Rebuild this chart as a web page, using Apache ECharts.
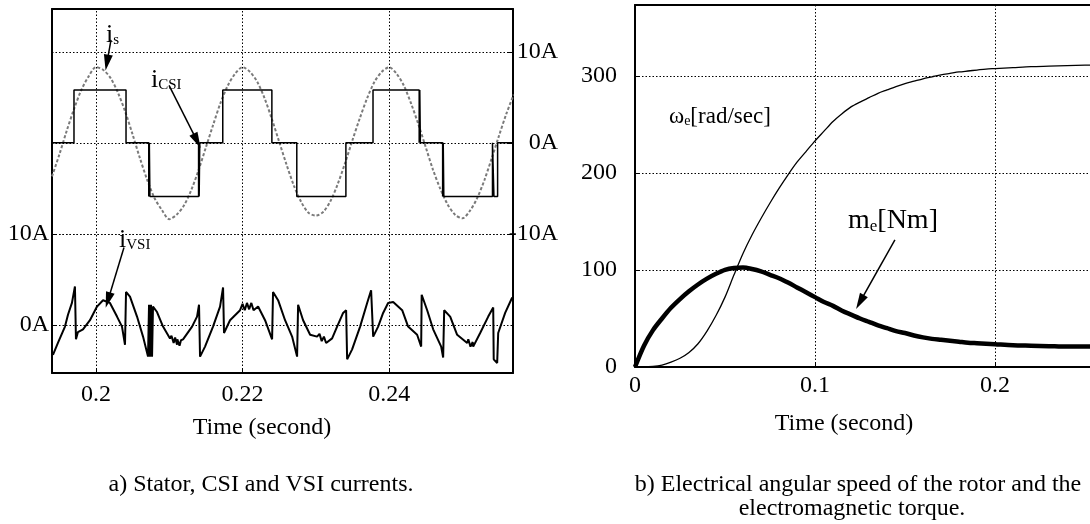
<!DOCTYPE html>
<html><head><meta charset="utf-8">
<script src="https://cdn.jsdelivr.net/npm/echarts@6/dist/echarts.min.js"></script>
<style>html,body{margin:0;padding:0;background:#fff}#c{width:1090px;height:524px}</style>
</head><body><div id="c"></div>
<script>
const FONT = "'Liberation Serif','Times New Roman',serif";

// ---------- left panel: currents ----------
const leftTicksX = [0.2, 0.22, 0.24];
const rightAxisTicks = [-10, 0, 10];   // i_s / i_CSI axis (drawn on the right)
const leftAxisTicks = [0, 10];         // i_VSI axis (drawn on the left)

const isTime = [0.194,0.195,0.196,0.197,0.198,0.199,0.200,0.201,0.202,0.203,
  0.204,0.205,0.206,0.207,0.208,0.209,0.210,0.211,0.212,0.213,
  0.214,0.215,0.216,0.217,0.218,0.219,0.220,0.221,0.222,0.223,
  0.224,0.225,0.226,0.227,0.228,0.229,0.230,0.231,0.232,0.233,
  0.234,0.235,0.236,0.237,0.238,0.239,0.240,0.241,0.242,0.243,
  0.244,0.245,0.246,0.247,0.248,0.249,0.250,0.251,0.252,0.253,
  0.254,0.255,0.256,0.257];
const isValue = [-3.7,-1.3,1.3,3.7,5.8,7.3,8.3,8.0,7.1,5.5,
  3.4,0.9,-1.7,-4.1,-6.1,-7.4,-8.4,-7.9,-6.9,-5.2,
  -3.0,-0.5,2.0,4.4,6.3,7.6,8.3,7.8,6.7,4.9,
  2.6,0.1,-2.4,-4.7,-6.5,-7.7,-8.0,-7.6,-6.4,-4.5,
  -2.2,0.3,2.7,4.9,6.7,7.8,8.3,7.6,6.3,4.3,
  2.0,-0.5,-3.0,-5.1,-6.8,-7.9,-8.3,-7.5,-6.1,-4.1,
  -1.7,0.8,3.2,5.3];

const csiTime = [0.194,0.1970,0.1970,0.2041,0.2041,0.2072,0.2072,0.20728,0.20728,0.20736,0.20736,
  0.2140,0.2140,0.21408,0.21408,0.21416,0.21416,0.2173,0.2173,0.2240,0.2240,0.2274,0.2274,
  0.2341,0.2341,0.2378,0.2378,0.2441,0.2441,0.24418,0.24418,0.24426,0.24426,
  0.2473,0.2473,0.24738,0.24738,0.24746,0.24746,0.2541,0.2541,0.2543,0.2543,0.2548,0.2548,0.2569];
const csiValue = [0,0,5.8,5.8,0,0,-5.9,-5.9,0,0,-5.9,
  -5.9,0,0,-5.9,-5.9,0,0,5.8,5.8,0,0,-5.9,
  -5.9,0,0,5.8,5.8,0,0,5.8,5.8,0,
  0,-5.9,-5.9,0,0,-5.9,-5.9,0,0,-5.9,-5.9,0,0];

const vsiTime = [0.19413,0.19481,0.19577,0.19618,0.19672,0.19713,0.19727,0.19754,0.19823,0.19918,
  0.20014,0.20096,0.20191,0.20287,0.20355,0.20396,0.20410,0.20464,0.20560,0.20642,
  0.20710,0.20724,0.20737,0.20751,0.20765,0.20778,0.20833,0.20915,0.21010,0.2103,
  0.2106,0.2108,0.21106,0.2111,0.2114,0.2116,0.21188,0.21311,0.21379,0.21406,
  0.21420,0.21488,0.21597,0.21693,0.21734,0.21747,0.21829,0.21966,0.2200,0.2203,
  0.2206,0.2209,0.22102,0.2212,0.2215,0.22212,0.22307,0.22403,0.22416,0.22485,
  0.22580,0.22676,0.22744,0.22758,0.22826,0.22922,0.23017,0.2305,0.2308,0.2311,
  0.2314,0.23154,0.23222,0.23290,0.23372,0.23413,0.23427,0.23495,0.23604,0.23700,
  0.23754,0.23782,0.23850,0.23918,0.23986,0.24055,0.24178,0.24259,0.24382,0.24437,
  0.24444,0.24519,0.24601,0.24710,0.24737,0.24751,0.24833,0.24928,0.25065,0.2508,
  0.2511,0.2514,0.25147,0.2517,0.25242,0.25352,0.25420,0.25427,0.25474,0.25488,
  0.25583,0.25679];
const vsiValue = [-3.3,-2.0,-0.2,1.1,2.4,4.2,-1.6,-0.8,-0.5,0.5,
  2.0,2.7,2.4,0.9,-0.2,-2.2,3.6,3.1,0.9,-1.3,
  -3.5,2.2,-3.5,2.2,-3.5,2.0,1.4,-0.2,-1.5,-1.2,
  -2.0,-1.4,-2.2,-1.6,-2.3,-1.7,-1.6,-0.2,0.9,2.2,
  -3.5,-2.4,-0.2,2.0,4.1,-0.9,0.5,1.6,2.3,1.6,
  2.4,1.7,2.0,2.4,1.6,2.0,0.5,-1.6,3.6,2.7,
  0.5,-1.3,-3.5,2.2,0.5,-1.1,-1.3,-1.0,-1.8,-1.3,
  -2.0,-1.9,-1.5,-0.2,1.3,1.6,-3.8,-2.7,-0.2,2.4,
  3.8,-1.3,-0.2,1.3,2.4,2.5,1.6,-0.2,-1.1,-2.4,
  3.3,1.6,-0.5,-2.4,-3.6,1.6,0.9,-1.1,-2.0,-1.6,
  -2.4,-1.9,-2.4,-2.6,-0.9,0.9,1.9,-3.8,-4.2,-0.9,
  1.3,3.0];

// annotation arrows (tail, head) in data coordinates
const arrowIs = [[0.20205, 11.3], [0.2015, 8.8]];
const arrowCsi = [[0.20997, 6.3], [0.21379, 0.2]];
const arrowVsi = [[0.20382, 8.5], [0.20164, 2.7]];

// ---------- right panel: speed & torque ----------
const rightTime = [0,0.005,0.01,0.015,0.02,0.025,0.03,0.035,0.04,0.045,
  0.05,0.055,0.06,0.065,0.07,0.075,0.08,0.085,0.09,0.095,
  0.1,0.105,0.11,0.115,0.12,0.125,0.13,0.135,0.14,0.145,
  0.15,0.155,0.16,0.165,0.17,0.175,0.18,0.185,0.19,0.195,
  0.2,0.21,0.22,0.23,0.24,0.25,0.26,0.27,0.28,0.29,0.3];
const omegaValue = [0,0,0.5,2,5,9,15,24,37,53,
  72,95,117,136,153,169,184,198,211,222,
  233,243,253,261,268,273,277.5,282,285.5,289,
  292,294.5,297,299,301,302.5,304,305,306,307,
  307.5,308.5,309.5,310,310.5,311,311.5,312,312.5,312.5,313];
const torqueValue = [0,22,38,50,61,70,78,85,91,96,
  100,102,102.5,101,98.5,95,91.5,87,82,77,
  72,67,63,58,54,50,46.5,43,40,37,
  35,32.5,30.5,29,28,27,26,25,24.5,24,
  23.5,22.5,22,21.5,21,21,21,21,21,21,21];
const arrowMe = [[0.1444, 131], [0.125, 67]];

// ---------- build ----------
const zip = (a, b) => a.map((x, i) => [x, b[i]]);
const txt = { color: '#000', fontFamily: FONT, fontSize: 24 };
const dotted = { color: '#000', width: 1, type: [1.5, 2] };
const axisLine = { show: true, onZero: false, lineStyle: { color: '#000', width: 2 } };
const fmtNum = v => String(+(+v).toFixed(3));
const arrow = (a) => ({
  silent: true, symbol: ['none', 'triangle'], symbolSize: [9, 16],
  itemStyle: { color: '#000' },
  label: { show: false }, lineStyle: { color: '#000', width: 1.5, type: 'solid' },
  emphasis: { disabled: true },
  data: [[{ coord: a[0] }, { coord: a[1] }]]
});

const chart = echarts.init(document.getElementById('c'), null, { renderer: 'canvas' });
chart.setOption({
  animation: false,
  backgroundColor: '#fff',
  grid: [
    { left: 52, top: 9, width: 461, height: 364, outerBoundsMode: 'none', containLabel: false },
    { left: 635, top: 5, width: 540, height: 362, outerBoundsMode: 'none', containLabel: false }
  ],
  xAxis: [
    { gridIndex: 0, type: 'value', min: 0.194, max: 0.2569, position: 'bottom',
      axisLine, splitLine: { show: false },
      axisTick: { show: true, inside: true, length: 5, customValues: leftTicksX, lineStyle: { color: '#000' } },
      axisLabel: Object.assign({ customValues: leftTicksX, margin: 10, formatter: fmtNum }, txt) },
    { gridIndex: 0, type: 'value', min: 0.194, max: 0.2569, position: 'top',
      axisLine, splitLine: { show: false }, axisTick: { show: false }, axisLabel: { show: false } },
    { gridIndex: 1, type: 'value', min: 0, max: 0.3, interval: 0.1, position: 'bottom',
      axisLine, splitLine: { show: true, lineStyle: dotted },
      axisTick: { show: true, inside: true, length: 5, lineStyle: { color: '#000' } },
      axisLabel: Object.assign({ margin: 7, formatter: fmtNum }, txt) },
    { gridIndex: 1, type: 'value', min: 0, max: 0.3, position: 'top',
      axisLine, splitLine: { show: false }, axisTick: { show: false }, axisLabel: { show: false } }
  ],
  yAxis: [
    { gridIndex: 0, type: 'value', min: -5.3, max: 34.7, position: 'left',
      axisLine, splitLine: { show: false },
      axisTick: { show: true, inside: true, length: 5, customValues: leftAxisTicks, lineStyle: { color: '#000' } },
      axisLabel: Object.assign({ customValues: leftAxisTicks, margin: 3, formatter: v => fmtNum(v) + 'A' }, txt) },
    { gridIndex: 0, type: 'value', min: -25.3, max: 14.7, position: 'right',
      axisLine, splitLine: { show: false },
      axisTick: { show: true, inside: true, length: 5, customValues: rightAxisTicks, lineStyle: { color: '#000' } },
      axisLabel: Object.assign({ customValues: rightAxisTicks, margin: 45, align: 'right', formatter: v => fmtNum(v) + 'A' }, txt) },
    { gridIndex: 1, type: 'value', min: 0, max: 373, interval: 100, position: 'left',
      axisLine, splitLine: { show: true, lineStyle: dotted },
      axisTick: { show: true, inside: true, length: 5, lineStyle: { color: '#000' } },
      axisLabel: Object.assign({ margin: 18, formatter: v => (v % 100 === 0 ? String(v) : '') }, txt) },
    { gridIndex: 1, type: 'value', min: 0, max: 373, position: 'right',
      axisLine, splitLine: { show: false }, axisTick: { show: false }, axisLabel: { show: false } }
  ],
  series: [
    { type: 'line', xAxisIndex: 0, yAxisIndex: 1, data: [], z: 1, silent: true,
      markLine: { silent: true, symbol: 'none', label: { show: false }, lineStyle: dotted,
        data: rightAxisTicks.map(v => ({ yAxis: v })).concat(leftTicksX.map(v => ({ xAxis: v }))) } },
    { type: 'line', xAxisIndex: 0, yAxisIndex: 0, data: [], z: 1, silent: true,
      markLine: { silent: true, symbol: 'none', label: { show: false }, lineStyle: dotted,
        data: leftAxisTicks.map(v => ({ yAxis: v })) } },
    { name: 'i_s', type: 'line', xAxisIndex: 0, yAxisIndex: 1, data: zip(isTime, isValue),
      smooth: 0.3, showSymbol: false, z: 3,
      lineStyle: { color: '#7a7a7a', width: 2, type: [3, 2] } },
    { name: 'i_CSI', type: 'line', xAxisIndex: 0, yAxisIndex: 1, data: zip(csiTime, csiValue),
      showSymbol: false, z: 4, lineStyle: { color: '#000', width: 1.5 },
      markLine: arrow(arrowIs) },
    { name: 'arrowCsi', type: 'line', xAxisIndex: 0, yAxisIndex: 1, data: [], z: 5,
      markLine: arrow(arrowCsi) },
    { name: 'i_VSI', type: 'line', xAxisIndex: 0, yAxisIndex: 0, data: zip(vsiTime, vsiValue),
      showSymbol: false, z: 4, lineStyle: { color: '#000', width: 2 },
      markLine: arrow(arrowVsi) },
    { name: 'omega', type: 'line', xAxisIndex: 2, yAxisIndex: 2, data: zip(rightTime, omegaValue),
      smooth: 0.3, showSymbol: false, z: 4, lineStyle: { color: '#000', width: 1.3 } },
    { name: 'torque', type: 'line', xAxisIndex: 2, yAxisIndex: 2, data: zip(rightTime, torqueValue),
      smooth: 0.3, showSymbol: false, z: 4, lineStyle: { color: '#000', width: 4.5 },
      markLine: arrow(arrowMe) }
  ],
  graphic: [
    { type: 'text', x: 262, y: 428, style: { text: 'Time (second)', textAlign: 'center', textVerticalAlign: 'middle', font: '24px ' + FONT, fill: '#000' } },
    { type: 'text', x: 844, y: 424, style: { text: 'Time (second)', textAlign: 'center', textVerticalAlign: 'middle', font: '24px ' + FONT, fill: '#000' } },
    { type: 'text', x: 261, y: 485, style: { text: 'a) Stator, CSI and VSI currents.', textAlign: 'center', textVerticalAlign: 'middle', font: '24px ' + FONT, fill: '#000' } },
    { type: 'text', x: 858, y: 485, style: { text: 'b) Electrical angular speed of the rotor and the', textAlign: 'center', textVerticalAlign: 'middle', font: '24px ' + FONT, fill: '#000' } },
    { type: 'text', x: 852, y: 509, style: { text: 'electromagnetic torque.', textAlign: 'center', textVerticalAlign: 'middle', font: '24px ' + FONT, fill: '#000' } },
    { type: 'text', x: 106, y: 33, style: { text: '{m|i}{s|s}', textVerticalAlign: 'middle',
      rich: { m: { fontSize: 26, fontFamily: FONT, lineHeight: 30, verticalAlign: 'bottom', fill: '#000' },
              s: { fontSize: 15, fontFamily: FONT, lineHeight: 14, verticalAlign: 'bottom', fill: '#000' } } } },
    { type: 'text', x: 151, y: 78, style: { text: '{m|i}{s|CSI}', textVerticalAlign: 'middle',
      rich: { m: { fontSize: 26, fontFamily: FONT, lineHeight: 30, verticalAlign: 'bottom', fill: '#000' },
              s: { fontSize: 15, fontFamily: FONT, lineHeight: 14, verticalAlign: 'bottom', fill: '#000' } } } },
    { type: 'text', x: 119, y: 238, style: { text: '{m|i}{s|VSI}', textVerticalAlign: 'middle',
      rich: { m: { fontSize: 26, fontFamily: FONT, lineHeight: 30, verticalAlign: 'bottom', fill: '#000' },
              s: { fontSize: 15, fontFamily: FONT, lineHeight: 14, verticalAlign: 'bottom', fill: '#000' } } } },
    { type: 'text', x: 669, y: 114, style: { text: '{m|ω}{s|e}{m|[rad/sec]}', textVerticalAlign: 'middle',
      rich: { m: { fontSize: 23, fontFamily: FONT, lineHeight: 28, verticalAlign: 'bottom', fill: '#000' },
              s: { fontSize: 14, fontFamily: FONT, lineHeight: 14, verticalAlign: 'bottom', fill: '#000' } } } },
    { type: 'text', x: 848, y: 219, style: { text: '{m|m}{s|e}{m|[Nm]}', textVerticalAlign: 'middle',
      rich: { m: { fontSize: 28, fontFamily: FONT, lineHeight: 32, verticalAlign: 'bottom', fill: '#000' },
              s: { fontSize: 17, fontFamily: FONT, lineHeight: 16, verticalAlign: 'bottom', fill: '#000' } } } }
  ]
});
</script></body></html>
